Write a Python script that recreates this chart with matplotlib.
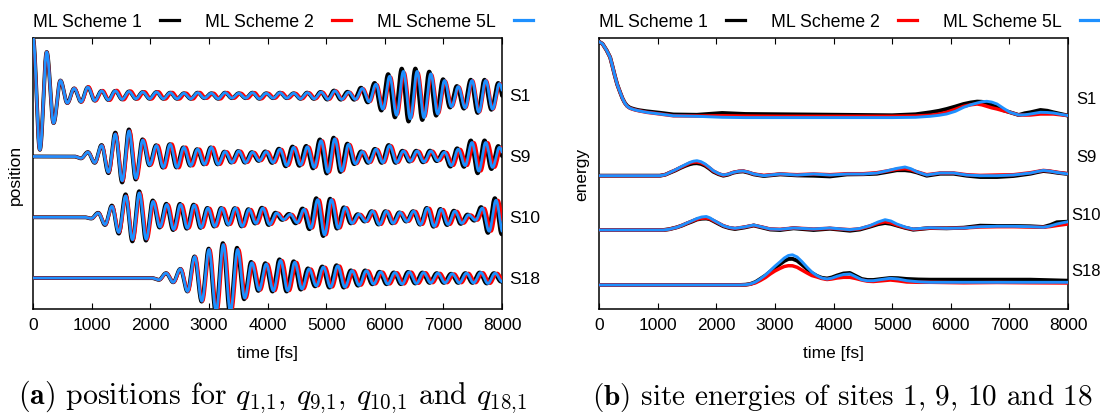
import numpy as np
import matplotlib
matplotlib.use("Agg")
import matplotlib.pyplot as plt
from matplotlib.lines import Line2D

plt.rcParams['font.family'] = ['Liberation Sans', 'DejaVu Sans']
plt.rcParams['mathtext.fontset'] = 'cm'

# ---------------------------------------------------------------- labels
TIME_TICKS = [0, 1000, 2000, 3000, 4000, 5000, 6000, 7000, 8000]
SCHEMES = ['ML Scheme 1', 'ML Scheme 2', 'ML Scheme 5L']
SCHEME_COLORS = ['#000000', '#ff0000', '#1e90ff']
SITES = ['S1', 'S9', 'S10', 'S18']

# ---------------------------------------------------------------- positions
# Successive turning points (maxima / minima) of q_{n,1} for ML Scheme 5L,
# one every half period starting at POS_T0 [fs].
POS_HALF_PERIOD = [117, 117, 117, 122]
POS_T0 = [0, 0, -58, 74]

POS_S1 = [0.95, -0.89, 0.72, -0.45, 0.25, -0.12, 0.12, -0.10, 0.14, -0.08,
          0.08, -0.07, 0.08, -0.06, 0.07, -0.05, 0.06, -0.05, 0.06, -0.05,
          0.05, -0.05, 0.04, -0.05, 0.05, -0.04, 0.04, -0.05, 0.05, -0.04,
          0.04, -0.04, 0.05, -0.05, 0.04, -0.04, 0.05, -0.04, 0.04, -0.05,
          0.05, -0.05, 0.06, -0.06, 0.08, -0.06, 0.06, -0.06, 0.12, -0.10,
          0.19, -0.22, 0.32, -0.32, 0.40, -0.38, 0.40, -0.36, 0.36, -0.30,
          0.25, -0.18, 0.15, -0.20, 0.25, -0.27, 0.25, -0.22, 0.20, -0.15]
POS_S9 = [0, 0, 0, 0, 0, 0, 0, -0.03, 0.07, -0.10,
          0.18, -0.26, 0.37, -0.40, 0.42, -0.36, 0.27, -0.14, 0.18, -0.18,
          0.20, -0.18, 0.15, -0.15, 0.12, -0.13, 0.15, -0.13, 0.08, -0.10,
          0.09, -0.10, 0.07, -0.07, 0.08, -0.10, 0.12, -0.15, 0.15, -0.14,
          0.16, -0.18, 0.26, -0.26, 0.29, -0.24, 0.20, -0.12, 0.08, -0.10,
          0.12, -0.10, 0.18, -0.10, 0.09, -0.08, 0.09, -0.09, 0.09, -0.07,
          0.07, -0.15, 0.12, -0.15, 0.23, -0.24, 0.23, -0.18, 0.15, -0.10]
POS_S10 = [0, 0, 0, 0, 0, 0, 0, 0, 0, -0.02,
           0.07, -0.12, 0.18, -0.25, 0.35, -0.37, 0.40, -0.36, 0.26, -0.16,
           0.21, -0.20, 0.21, -0.18, 0.20, -0.17, 0.15, -0.15, 0.15, -0.12,
           0.15, -0.15, 0.13, -0.10, 0.15, -0.12, 0.07, -0.04, 0.05, -0.09,
           0.13, -0.18, 0.29, -0.29, 0.29, -0.18, 0.16, -0.10, 0.05, -0.07,
           0.10, -0.12, 0.10, -0.10, 0.08, -0.07, 0.10, -0.12, 0.15, -0.15,
           0.13, -0.12, 0.10, -0.10, 0.04, -0.05, 0.15, -0.23, 0.28, -0.25]
POS_S18 = [0, 0, 0, 0, 0, 0, 0, 0, 0, 0,
           0, 0, 0, 0, 0, 0, 0, -0.03, 0.08, -0.07,
           0.15, -0.22, 0.35, -0.38, 0.47, -0.55, 0.55, -0.55, 0.47, -0.33,
           0.25, -0.20, 0.23, -0.21, 0.29, -0.21, 0.26, -0.18, 0.15, -0.13,
           0.18, -0.15, 0.20, -0.15, 0.12, -0.12, 0.12, -0.10, 0.10, -0.10,
           0.09, -0.10, 0.10, -0.09, 0.09, -0.08, 0.08, -0.08, 0.07, -0.08,
           0.08, -0.08, 0.09, -0.09, 0.08, -0.06]

# Deviation of Schemes 1 and 2 from Scheme 5L in 1000 fs windows:
# amplitude ratio and time shift [fs] (rows: S1, S9, S10, S18).
WINDOW_CENTERS = [500, 1500, 2500, 3500, 4500, 5500, 6500, 7500]
POS_BLACK_GAIN = [[1.0, 1.0, 1.0, 1.0, 1.0, 1.1, 1.12, 1.05],
                  [1.0, 1.07, 1.0, 1.0, 1.1, 1.05, 1.05, 1.15],
                  [1.0, 1.08, 1.05, 1.0, 1.12, 1.0, 1.0, 1.12],
                  [1.0, 1.0, 1.0, 1.06, 1.06, 1.05, 1.0, 1.0]]
POS_BLACK_LAG = [[0, 0, 0, 0, 0, -20, -30, -20],
                 [0, 0, -10, -10, -20, -20, -15, -20],
                 [0, 0, -10, -10, -25, -20, -10, -20],
                 [0, 0, 0, -10, -20, -20, -20, -20]]
POS_RED_GAIN = [[1.0, 1.15, 1.15, 1.1, 1.05, 1.0, 0.95, 1.0],
                [1.0, 1.0, 1.05, 1.0, 1.0, 1.0, 1.0, 1.0],
                [1.0, 1.0, 1.0, 1.0, 1.0, 1.0, 1.0, 1.0],
                [1.0, 1.0, 1.0, 1.0, 1.0, 1.0, 1.0, 1.0]]
POS_RED_LAG = [[0, 25, 35, 35, 30, 15, 15, 10],
               [0, 10, 30, 30, 25, 20, 25, 35],
               [0, 10, 25, 30, 25, 25, 30, 35],
               [0, 0, 10, 20, 30, 30, 35, 35]]

POS_OFFSETS = [3.0, 2.0, 1.0, 0.0]

# ---------------------------------------------------------------- energies
E_S1_T = [0, 60, 130, 190, 230, 270, 310, 360, 400, 440,
          480, 530, 600, 670, 810, 1040, 1270, 1670, 2100, 2500,
          3100, 4100, 5000, 5400, 5650, 5800, 5930, 6080, 6220, 6340,
          6450, 6530, 6615, 6700, 6790, 6900, 7010, 7160, 7260, 7360,
          7530, 7650, 7750, 8000]
E_S1_ML1 = [7.46, 7.25, 6.6, 5.9, 5.0, 4.06, 3.2, 2.4, 1.8, 1.35,
            1.05, 0.85, 0.72, 0.62, 0.5, 0.35, 0.18, 0.15, 0.33, 0.23,
            0.2, 0.15, 0.1, 0.2, 0.4, 0.55, 0.73, 0.98, 1.23, 1.38,
            1.47, 1.45, 1.33, 1.12, 0.9, 0.6, 0.4, 0.13, 0.3, 0.4,
            0.63, 0.55, 0.4, 0.07]
E_S1_ML2 = [7.46, 7.25, 6.6, 5.9, 5.0, 4.06, 3.2, 2.4, 1.8, 1.33,
            1.0, 0.8, 0.66, 0.56, 0.4, 0.23, 0.05, 0.03, 0.05, 0.02,
            0.0, 0.0, 0.0, 0.03, 0.1, 0.22, 0.4, 0.7, 1.0, 1.15,
            1.23, 1.15, 1.0, 0.85, 0.73, 0.55, 0.4, 0.13, 0.12, 0.13,
            0.23, 0.23, 0.23, 0.07]
E_S1_ML5L = [7.46, 7.25, 6.6, 5.9, 5.0, 4.06, 3.2, 2.4, 1.8, 1.33,
             1.0, 0.8, 0.66, 0.56, 0.4, 0.23, 0.05, 0.0, -0.1, -0.13,
             -0.13, -0.13, -0.13, -0.1, 0.0, 0.1, 0.23, 0.5, 0.9, 1.15,
             1.33, 1.45, 1.5, 1.42, 1.23, 0.8, 0.4, 0.13, 0.15, 0.23,
             0.4, 0.38, 0.33, 0.07]

E_S9_T = [0, 1040, 1130, 1210, 1300, 1380, 1470, 1550, 1610, 1670,
          1740, 1810, 1880, 1950, 2040, 2120, 2200, 2290, 2380, 2460,
          2550, 2640, 2810, 3090, 3380, 3660, 3940, 4230, 4510, 4740,
          4920, 5080, 5220, 5320, 5420, 5590, 5820, 6050, 6270, 6500,
          6790, 7070, 7360, 7480, 7580, 7700, 7810, 8000]
E_S9_ML1 = [0, 0, 0.1, 0.3, 0.52, 0.75, 0.98, 1.15, 1.23, 1.25,
            1.18, 1.0, 0.72, 0.4, 0.15, 0.0, 0.1, 0.3, 0.4, 0.43,
            0.3, 0.13, -0.03, 0.13, 0.03, 0.0, -0.07, 0.13, 0.15, 0.2,
            0.38, 0.55, 0.55, 0.48, 0.33, 0.0, 0.2, 0.2, 0.0, -0.13,
            -0.13, -0.03, 0.2, 0.36, 0.47, 0.4, 0.3, 0.17]
E_S9_ML2 = [0, 0, 0.1, 0.33, 0.56, 0.8, 1.05, 1.27, 1.36, 1.38,
            1.3, 1.1, 0.8, 0.47, 0.2, 0.05, 0.15, 0.33, 0.44, 0.47,
            0.35, 0.17, 0.03, 0.17, 0.1, 0.17, 0.1, 0.2, 0.2, 0.3,
            0.48, 0.65, 0.7, 0.6, 0.4, 0.1, 0.27, 0.27, 0.1, 0.03,
            0.07, 0.1, 0.3, 0.43, 0.53, 0.46, 0.35, 0.2]
E_S9_ML5L = [0, 0, 0.1, 0.33, 0.58, 0.83, 1.1, 1.33, 1.45, 1.5,
             1.4, 1.17, 0.85, 0.5, 0.22, 0.07, 0.15, 0.33, 0.44, 0.47,
             0.35, 0.17, 0.0, 0.17, 0.07, 0.17, 0.07, 0.17, 0.17, 0.27,
             0.5, 0.73, 0.87, 0.7, 0.4, 0.07, 0.27, 0.27, 0.07, 0.0,
             0.0, 0.07, 0.27, 0.42, 0.53, 0.45, 0.33, 0.17]

E_S10_T = [0, 1100, 1200, 1330, 1420, 1500, 1590, 1670, 1750, 1830,
           1890, 1950, 2040, 2120, 2220, 2320, 2480, 2640, 2780, 2920,
           3090, 3320, 3660, 3940, 4280, 4450, 4620, 4760, 4880, 4980,
           5080, 5220, 5360, 5650, 5930, 6220, 6500, 6790, 7070, 7360,
           7580, 7700, 7810, 8000]
E_S10_ML1 = [0, 0, 0.08, 0.27, 0.45, 0.65, 0.85, 1.05, 1.13, 1.15,
             1.08, 0.9, 0.62, 0.38, 0.2, 0.1, 0.25, 0.45, 0.25, 0.05,
             0.0, 0.17, 0.0, 0.13, -0.07, 0.05, 0.33, 0.58, 0.7, 0.62,
             0.45, 0.22, 0.03, 0.2, 0.17, 0.23, 0.43, 0.4, 0.4, 0.37,
             0.3, 0.5, 0.77, 0.83]
E_S10_ML2 = [0, 0, 0.08, 0.27, 0.47, 0.68, 0.9, 1.08, 1.17, 1.2,
             1.12, 0.95, 0.68, 0.43, 0.24, 0.15, 0.3, 0.47, 0.3, 0.1,
             0.07, 0.2, 0.1, 0.17, 0.03, 0.12, 0.4, 0.68, 0.83, 0.72,
             0.5, 0.25, 0.07, 0.2, 0.17, 0.2, 0.3, 0.33, 0.33, 0.3,
             0.27, 0.35, 0.45, 0.6]
E_S10_ML5L = [0, 0, 0.08, 0.27, 0.48, 0.7, 0.93, 1.15, 1.3, 1.35,
              1.22, 1.0, 0.7, 0.43, 0.25, 0.17, 0.3, 0.5, 0.3, 0.1,
              0.07, 0.2, 0.1, 0.2, 0.03, 0.15, 0.43, 0.8, 1.03, 0.9,
              0.6, 0.3, 0.1, 0.23, 0.17, 0.2, 0.33, 0.37, 0.37, 0.33,
              0.27, 0.4, 0.6, 0.83]

E_S18_T = [0, 2400, 2500, 2580, 2670, 2750, 2840, 2920, 3000, 3090,
           3160, 3230, 3300, 3380, 3460, 3550, 3630, 3720, 3800, 3890,
           3970, 4060, 4170, 4280, 4380, 4480, 4580, 4680, 4820, 4970,
           5100, 5250, 5450, 5650, 6220, 6790, 7360, 8000]
E_S18_ML1 = [0, 0, 0.03, 0.1, 0.3, 0.6, 0.95, 1.33, 1.72, 2.1,
             2.4, 2.6, 2.62, 2.43, 2.05, 1.6, 1.2, 0.9, 0.72, 0.65,
             0.75, 0.95, 1.15, 1.2, 0.9, 0.6, 0.5, 0.5, 0.6, 0.7,
             0.68, 0.6, 0.55, 0.53, 0.53, 0.53, 0.53, 0.43]
E_S18_ML2 = [0, 0, 0.02, 0.08, 0.22, 0.45, 0.75, 1.1, 1.4, 1.67,
             1.85, 1.93, 1.92, 1.77, 1.5, 1.2, 0.95, 0.8, 0.65, 0.55,
             0.6, 0.7, 0.77, 0.77, 0.65, 0.5, 0.38, 0.35, 0.42, 0.5,
             0.42, 0.3, 0.27, 0.27, 0.22, 0.25, 0.22, 0.2]
E_S18_ML5L = [0, 0, 0.03, 0.1, 0.3, 0.6, 1.0, 1.43, 1.88, 2.33,
              2.7, 2.95, 3.02, 2.8, 2.35, 1.77, 1.3, 0.93, 0.7, 0.6,
              0.68, 0.87, 1.05, 1.1, 0.82, 0.53, 0.42, 0.43, 0.55, 0.67,
              0.6, 0.43, 0.32, 0.27, 0.27, 0.27, 0.27, 0.27]

ENERGY_OFFSETS = [16.87, 10.93, 5.5, 0.0]

# ---------------------------------------------------------------- helpers
def turning_point_curve(t, t0, half_period, extrema):
    """Smooth oscillation passing through the given turning points."""
    v = np.asarray(extrema, dtype=float)
    x = (np.asarray(t, dtype=float) - t0) / half_period
    k = np.floor(x).astype(int)
    s = x - k
    k0 = np.clip(k, 0, len(v) - 1)
    k1 = np.clip(k + 1, 0, len(v) - 1)
    w = 0.5 * (1.0 - np.cos(np.pi * s))
    return v[k0] + (v[k1] - v[k0]) * w


def style_axes(ax, ylabel):
    ax.set_xlim(0, 8000)
    ax.set_xticks(TIME_TICKS)
    ax.set_xticklabels([str(v) for v in TIME_TICKS])
    ax.set_yticks([])
    ax.tick_params(axis='x', which='both', direction='in', top=True,
                   length=4, width=0.8, labelsize=12.5, pad=6)
    for spine in ax.spines.values():
        spine.set_linewidth(1.1)
    ax.set_xlabel('time [fs]', fontsize=12.5, labelpad=9)
    ax.set_ylabel(ylabel, fontsize=12.5, labelpad=7)


def add_legend(ax):
    handles = [Line2D([], [], color=c, lw=2.3) for c in SCHEME_COLORS]
    ax.legend(handles, SCHEMES, loc='lower left', bbox_to_anchor=(0.0, 1.03),
              ncol=3, frameon=False, markerfirst=False, fontsize=12.8,
              handlelength=1.1, handletextpad=1.0, columnspacing=1.45,
              borderpad=0.0, borderaxespad=0.0)


# ---------------------------------------------------------------- figure
fig = plt.figure(figsize=(11, 4.14), dpi=100)
ax_pos = fig.add_axes([33 / 1100, 104 / 414, 469 / 1100, 271 / 414])
ax_en = fig.add_axes([599 / 1100, 104 / 414, 469 / 1100, 271 / 414])

t = np.linspace(0, 8000, 4001)
pos_series = [POS_S1, POS_S9, POS_S10, POS_S18]
line_widths = [2.8, 2.2, 2.0]

for i, extrema in enumerate(pos_series):
    t0, h = POS_T0[i], POS_HALF_PERIOD[i]
    mods = [(POS_BLACK_GAIN[i], POS_BLACK_LAG[i]),
            (POS_RED_GAIN[i], POS_RED_LAG[i]),
            ([1.0] * 8, [0] * 8)]
    for j, (gain, lag) in enumerate(mods):
        g = np.interp(t, WINDOW_CENTERS, gain)
        d = np.interp(t, WINDOW_CENTERS, lag)
        y = POS_OFFSETS[i] + g * turning_point_curve(t - d, t0, h, extrema)
        ax_pos.plot(t, y, color=SCHEME_COLORS[j], lw=line_widths[j],
                    solid_capstyle='round', zorder=2 + j)
    ax_pos.text(1.015, (POS_OFFSETS[i] + 0.51) / 4.46, SITES[i],
                transform=ax_pos.transAxes, fontsize=12.5, va='center', ha='left')

ax_pos.set_ylim(-0.51, 3.95)
style_axes(ax_pos, 'position')
add_legend(ax_pos)

energy_series = [(E_S1_T, [E_S1_ML1, E_S1_ML2, E_S1_ML5L]),
                 (E_S9_T, [E_S9_ML1, E_S9_ML2, E_S9_ML5L]),
                 (E_S10_T, [E_S10_ML1, E_S10_ML2, E_S10_ML5L]),
                 (E_S18_T, [E_S18_ML1, E_S18_ML2, E_S18_ML5L])]
energy_label_y = [18.6, 12.9, 7.1, 1.45]
energy_label_x = [1.018, 1.018, 1.008, 1.008]
for i, (times, schemes) in enumerate(energy_series):
    for j, vals in enumerate(schemes):
        ax_en.plot(times, ENERGY_OFFSETS[i] + np.asarray(vals),
                   color=SCHEME_COLORS[j], lw=[2.8, 2.5, 2.1][j],
                   solid_joinstyle='round', zorder=2 + j)
    ax_en.text(energy_label_x[i], (energy_label_y[i] + 2.4) / 27.1, SITES[i],
               transform=ax_en.transAxes, fontsize=12, va='center', ha='left')

ax_en.set_ylim(-2.4, 24.7)
style_axes(ax_en, 'energy')
add_legend(ax_en)

fig.text(0.2475, 0.041,
         r'$\mathbf{(a)}$ positions for $q_{1{,}1}$, $q_{9{,}1}$, $q_{10{,}1}$ and $q_{18{,}1}$',
         ha='center', va='center', fontsize=21.5, family='cmr10')
fig.text(0.766, 0.041,
         r'$\mathbf{(b)}$ site energies of sites 1, 9, 10 and 18',
         ha='center', va='center', fontsize=21, family='cmr10')

fig.savefig('out.png', dpi=100)
